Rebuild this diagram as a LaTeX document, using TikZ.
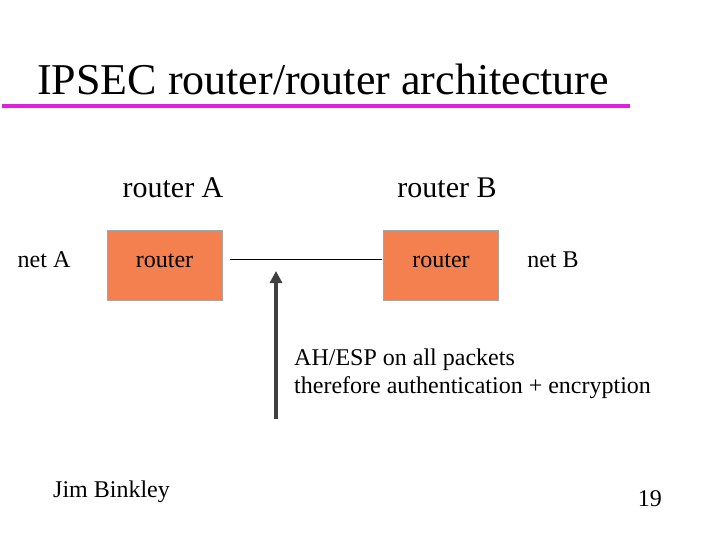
\documentclass[tikz,border=0pt]{standalone}
\usepackage{fontspec}
\setmainfont{Liberation Serif}
\usetikzlibrary{arrows.meta}
\definecolor{mag}{RGB}{224,32,224}
\definecolor{org}{RGB}{244,127,79}
\begin{document}
\begin{tikzpicture}[x=1pt,y=-1pt,
  box/.style={draw=gray!70,fill=org,minimum width=115pt,minimum height=70pt,inner sep=0pt},
  txt/.style={inner sep=0pt,font=\fontsize{24}{28}\selectfont},
  big/.style={inner sep=0pt,font=\fontsize{30}{34}\selectfont}]
\useasboundingbox (0,0) rectangle (720,540);
\node[anchor=base west,inner sep=0pt,font=\fontsize{44}{48}\selectfont] (title) at (37,95) {IPSEC router/router architecture};
\draw[line width=4pt,mag] (2,106) -- (630,106);
\node[big,anchor=base] (ra) at (173,197) {router A};
\node[big,anchor=base] (rb) at (447,197) {router B};
\node[box] (bA) at (164.5,265) {};
\node[box] (bB) at (441,265) {};
\node[txt,anchor=base] (tA) at (164.5,267) {router};
\node[txt,anchor=base] (tB) at (441,267) {router};
\node[txt,anchor=base] (nA) at (44,267) {net A};
\node[txt,anchor=base] (nB) at (553,267) {net B};
\coordinate (l1) at (230,259);
\coordinate (l2) at (382,259);
\draw[thin] (l1) -- (l2);
\coordinate (a0) at (276,419);
\coordinate (a1) at (276,271);
\draw[line width=3.5pt,black!75,-{Triangle[length=12pt,width=12pt]}] (a0) -- (a1);
\node[txt,anchor=base west] (p1) at (294,365) {AH/ESP on all packets};
\node[txt,anchor=base west] (p2) at (294,393) {therefore authentication + encryption};
\node[txt,anchor=base west] (jb) at (53,497) {Jim Binkley};
\node[txt,anchor=base east] (pg) at (662,506) {19};
\end{tikzpicture}
\end{document}
